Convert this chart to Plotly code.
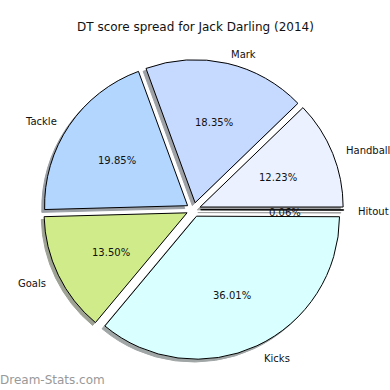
import math
import plotly.graph_objects as go

labels = ["Hitout", "Handball", "Mark", "Tackle", "Goals", "Kicks"]
values = [0.06, 12.23, 18.35, 19.85, 13.50, 36.01]
colors = ["#f5f5f5", "#ebf1ff", "#c6d9ff", "#b3d6ff", "#cfeb8a", "#d9ffff"]
title = "DT score spread for Jack Darling (2014)"

W = H = 390
CX, CY, R = 193.5, 210.2, 141.0
RP = R + 2.0          # drawn pie radius (plotly renders slightly smaller)
PULL = 0.05
SH = 0.02 * R         # shadow offset in px
DY = 2.0              # text baseline tweak

half = RP * (1 + PULL)


def dom(cx, cy):
    return dict(x=[(cx - half) / W, (cx + half) / W],
                y=[(H - cy - half) / H, (H - cy + half) / H])


def shadow(c):
    h = c.lstrip("#")
    rgb = [int(h[i:i + 2], 16) for i in (0, 2, 4)]
    return "rgb(%d,%d,%d)" % tuple(int(0.5 * 0.3 * v + 0.5 * 255) for v in rgb)


fig = go.Figure()
common = dict(values=values, labels=labels, sort=False, direction="counterclockwise",
              rotation=90, pull=[PULL] * len(values), textinfo="none",
              hoverinfo="label+percent", showlegend=False)
fig.add_trace(go.Pie(domain=dom(CX - SH, CY - 0.5 + SH),
                     marker=dict(colors=[shadow(c) for c in colors],
                                 line=dict(color=[shadow(c) for c in colors], width=1)),
                     **common))
fig.add_trace(go.Pie(domain=dom(CX, CY - 0.5),
                     marker=dict(colors=colors, line=dict(color="#000000", width=1)),
                     **common))

total = sum(values)
ann = []
start = 0.0
for lab, v in zip(labels, values):
    span = v / total * 360.0
    th = math.radians(start + span / 2)
    start += span
    c, s = math.cos(th), math.sin(th)
    sx, sy = CX + PULL * R * c, CY - PULL * R * s
    lx, ly = sx + 1.1 * R * c, sy - 1.1 * R * s + DY
    px, py = sx + 0.6 * R * c, sy - 0.6 * R * s + DY
    ann.append(dict(x=lx / W, y=(H - ly) / H, xref="paper", yref="paper", text=lab,
                    showarrow=False, xanchor="left" if c > 0 else "right", yanchor="middle",
                    font=dict(size=10, color="#111111")))
    ann.append(dict(x=px / W, y=(H - py) / H, xref="paper", yref="paper",
                    text="%.2f%%" % (v / total * 100), showarrow=False,
                    xanchor="center", yanchor="middle",
                    font=dict(size=10, color="#111111")))

ann.append(dict(x=0.5, y=(H - 25 - DY) / H, xref="paper", yref="paper", text=title,
                showarrow=False, xanchor="center", yanchor="middle",
                font=dict(size=12, color="#111111")))
ann.append(dict(x=-0.005, y=(H - 380) / H, xref="paper", yref="paper", text="Dream-Stats.com",
                showarrow=False, xanchor="left", yanchor="middle",
                font=dict(size=12, color="#999999", family="DejaVu Sans")))

fig.update_layout(width=W, height=H, margin=dict(l=0, r=0, t=0, b=0),
                  paper_bgcolor="white", plot_bgcolor="white",
                  font=dict(family="DejaVu Sans"), annotations=ann)

fig.write_html("out.html")
